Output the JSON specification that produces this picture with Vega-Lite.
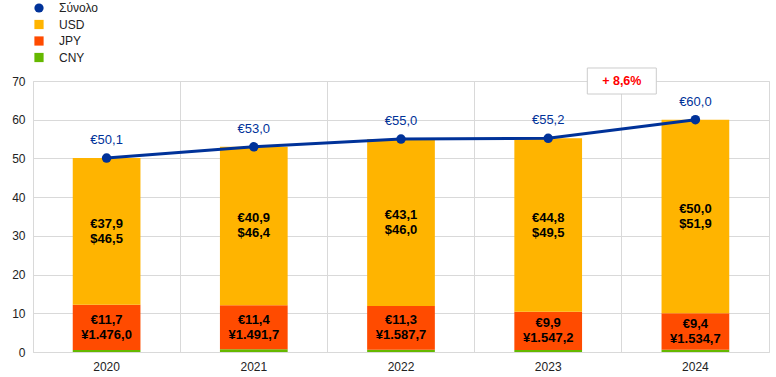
{
  "$schema": "https://vega.github.io/schema/vega-lite/v6.json",
  "width": 736,
  "height": 271,
  "autosize": {"type": "none"},
  "padding": {"left": 33, "top": 81, "right": 7, "bottom": 25},
  "config": {
    "view": {"stroke": "#d9d9d9"},
    "font": "Liberation Sans",
    "axis": {"labelFont": "Liberation Sans", "labelFontSize": 12, "labelColor": "#222222", "gridColor": "#d9d9d9", "domain": false, "ticks": false, "title": null}
  },
  "datasets": {
    "bars": [
      {"year": "2020", "currency": "CNY", "rank": 0, "value": 0.5, "label": ""},
      {"year": "2020", "currency": "JPY", "rank": 1, "value": 11.7, "label": "€11,7\n¥1.476,0"},
      {"year": "2020", "currency": "USD", "rank": 2, "value": 37.9, "label": "€37,9\n$46,5"},
      {"year": "2021", "currency": "CNY", "rank": 0, "value": 0.7, "label": ""},
      {"year": "2021", "currency": "JPY", "rank": 1, "value": 11.4, "label": "€11,4\n¥1.491,7"},
      {"year": "2021", "currency": "USD", "rank": 2, "value": 40.9, "label": "€40,9\n$46,4"},
      {"year": "2022", "currency": "CNY", "rank": 0, "value": 0.6, "label": ""},
      {"year": "2022", "currency": "JPY", "rank": 1, "value": 11.3, "label": "€11,3\n¥1.587,7"},
      {"year": "2022", "currency": "USD", "rank": 2, "value": 43.1, "label": "€43,1\n$46,0"},
      {"year": "2023", "currency": "CNY", "rank": 0, "value": 0.5, "label": ""},
      {"year": "2023", "currency": "JPY", "rank": 1, "value": 9.9, "label": "€9,9\n¥1.547,2"},
      {"year": "2023", "currency": "USD", "rank": 2, "value": 44.8, "label": "€44,8\n$49,5"},
      {"year": "2024", "currency": "CNY", "rank": 0, "value": 0.6, "label": ""},
      {"year": "2024", "currency": "JPY", "rank": 1, "value": 9.4, "label": "€9,4\n¥1.534,7"},
      {"year": "2024", "currency": "USD", "rank": 2, "value": 50.0, "label": "€50,0\n$51,9"}
    ],
    "total": [
      {"year": "2020", "value": 50.1, "label": "€50,1"},
      {"year": "2021", "value": 53.0, "label": "€53,0"},
      {"year": "2022", "value": 55.0, "label": "€55,0"},
      {"year": "2023", "value": 55.2, "label": "€55,2"},
      {"year": "2024", "value": 60.0, "label": "€60,0"}
    ],
    "annot": [
      {"year": "2024", "value": 70, "label": "+ 8,6%"}
    ]
  },
  "layer": [
    {
      "data": {"name": "bars"},
      "transform": [
        {"stack": "value", "groupby": ["year"], "sort": [{"field": "rank", "order": "ascending"}], "as": ["v0", "v1"]}
      ],
      "mark": {"type": "bar", "width": {"band": 0.46}},
      "encoding": {
        "x": {"field": "year", "type": "ordinal", "scale": {"paddingInner": 0, "paddingOuter": 0},
              "axis": {"labelAngle": 0, "grid": true, "bandPosition": 0, "labelPadding": 9}},
        "y": {"field": "v0", "type": "quantitative", "scale": {"domain": [0, 70], "nice": false},
              "axis": {"values": [0, 10, 20, 30, 40, 50, 60, 70], "labelPadding": 8, "labelOverlap": false}},
        "y2": {"field": "v1"},
        "color": {
          "field": "currency", "type": "nominal",
          "scale": {"domain": ["Σύνολο", "USD", "JPY", "CNY"], "range": ["#003299", "#FFB400", "#FF4B00", "#65B800"]},
          "legend": {
            "title": null, "orient": "none", "legendX": 0, "legendY": -79, "padding": 0,
            "symbolSize": 85, "symbolStrokeWidth": 0, "labelFontSize": 12, "labelColor": "#222222",
            "labelFont": "Liberation Sans", "labelOffset": 14, "rowPadding": 4.5,
            "encode": {"symbols": {"update": {"shape": {"signal": "datum.value === 'Σύνολο' ? 'circle' : 'square'"}}}}
          }
        }
      }
    },
    {
      "data": {"name": "bars"},
      "transform": [
        {"stack": "value", "groupby": ["year"], "sort": [{"field": "rank", "order": "ascending"}], "as": ["v0", "v1"]},
        {"calculate": "(datum.v0 + datum.v1) / 2", "as": "mid"},
        {"filter": "datum.label !== ''"}
      ],
      "mark": {"type": "text", "fontWeight": "bold", "fontSize": 13, "lineBreak": "\n", "lineHeight": 15, "baseline": "middle", "align": "center", "color": "#000000", "dy": -7.5},
      "encoding": {
        "x": {"field": "year", "type": "ordinal"},
        "y": {"field": "mid", "type": "quantitative", "axis": {"values": [0, 10, 20, 30, 40, 50, 60, 70], "labelPadding": 8, "labelOverlap": false}},
        "text": {"field": "label"}
      }
    },
    {
      "data": {"name": "total"},
      "mark": {"type": "line", "color": "#003299", "strokeWidth": 3},
      "encoding": {
        "x": {"field": "year", "type": "ordinal"},
        "y": {"field": "value", "type": "quantitative", "axis": {"values": [0, 10, 20, 30, 40, 50, 60, 70], "labelPadding": 8, "labelOverlap": false}}
      }
    },
    {
      "data": {"name": "total"},
      "mark": {"type": "point", "filled": true, "color": "#003299", "size": 90, "opacity": 1},
      "encoding": {
        "x": {"field": "year", "type": "ordinal"},
        "y": {"field": "value", "type": "quantitative", "axis": {"values": [0, 10, 20, 30, 40, 50, 60, 70], "labelPadding": 8, "labelOverlap": false}}
      }
    },
    {
      "data": {"name": "total"},
      "mark": {"type": "text", "color": "#003299", "fontSize": 13, "dy": -18, "align": "center", "baseline": "middle"},
      "encoding": {
        "x": {"field": "year", "type": "ordinal"},
        "y": {"field": "value", "type": "quantitative", "axis": {"values": [0, 10, 20, 30, 40, 50, 60, 70], "labelPadding": 8, "labelOverlap": false}},
        "text": {"field": "label"}
      }
    },
    {
      "data": {"name": "annot"},
      "mark": {"type": "point", "shape": "M-1,-0.377H1V0.377H-1Z", "size": 4761, "fill": "#ffffff", "stroke": "#cccccc", "strokeWidth": 1, "opacity": 1, "fillOpacity": 1},
      "encoding": {
        "x": {"field": "year", "type": "ordinal", "bandPosition": 0},
        "y": {"field": "value", "type": "quantitative", "axis": {"values": [0, 10, 20, 30, 40, 50, 60, 70], "labelPadding": 8, "labelOverlap": false}}
      }
    },
    {
      "data": {"name": "annot"},
      "mark": {"type": "text", "color": "#FF0000", "fontWeight": "bold", "fontSize": 12.5, "align": "center", "baseline": "middle"},
      "encoding": {
        "x": {"field": "year", "type": "ordinal", "bandPosition": 0},
        "y": {"field": "value", "type": "quantitative", "axis": {"values": [0, 10, 20, 30, 40, 50, 60, 70], "labelPadding": 8, "labelOverlap": false}},
        "text": {"field": "label"}
      }
    }
  ]
}
